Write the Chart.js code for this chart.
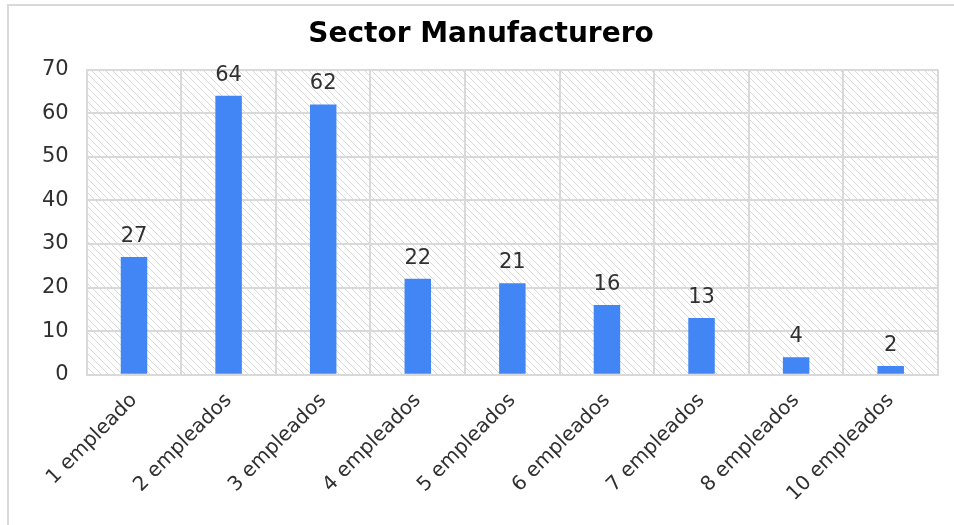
<!DOCTYPE html>
<html>
<head>
<meta charset="utf-8">
<script src="https://cdn.jsdelivr.net/npm/chart.js@4.4.0/dist/chart.umd.min.js"></script>
<style>
  html, body { margin: 0; padding: 0; background: #fff; }
  #wrap { width: 954px; height: 525px; position: relative; }
</style>
</head>
<body>
<div id="wrap"><canvas id="chart"></canvas></div>
<script>
const categories = ["1 empleado", "2 empleados", "3 empleados", "4 empleados", "5 empleados",
  "6 empleados", "7 empleados", "8 empleados", "10 empleados"];
const values = [27, 64, 62, 22, 21, 16, 13, 4, 2];
const yTicks = [0, 10, 20, 30, 40, 50, 60, 70];

const FONT = "'DejaVu Sans', sans-serif";
const GRID = "#d9d9d9";
const TEXT = "#303030";

const makeHatch = () => {
  const s = 7;
  const c = document.createElement("canvas");
  c.width = s;
  c.height = s;
  const g = c.getContext("2d");
  g.strokeStyle = "#d8d8d8";
  g.lineWidth = 1;
  g.beginPath();
  g.moveTo(-1, -1); g.lineTo(s + 1, s + 1);
  g.moveTo(-1, s - 1); g.lineTo(1, s + 1);
  g.moveTo(s - 1, -1); g.lineTo(s + 1, 1);
  g.stroke();
  return g.createPattern(c, "repeat");
};

const hatchBg = {
  id: "hatchBg",
  beforeDraw(chart) {
    const { ctx, chartArea: a } = chart;
    ctx.save();
    ctx.fillStyle = "#fff";
    ctx.fillRect(0, 0, chart.width, chart.height);
    ctx.fillStyle = makeHatch();
    ctx.fillRect(a.left, a.top, a.right - a.left, a.bottom - a.top);
    // outer frame (top + left edges only visible)
    ctx.strokeStyle = GRID;
    ctx.lineWidth = 2;
    ctx.beginPath();
    ctx.moveTo(8, chart.height);
    ctx.lineTo(8, 5);
    ctx.lineTo(chart.width, 5);
    ctx.stroke();
    ctx.restore();
  }
};

const valueLabels = {
  id: "valueLabels",
  afterDatasetsDraw(chart) {
    const { ctx } = chart;
    const meta = chart.getDatasetMeta(0);
    ctx.save();
    ctx.font = "21px " + FONT;
    ctx.fillStyle = TEXT;
    ctx.textAlign = "center";
    ctx.textBaseline = "bottom";
    meta.data.forEach((bar, i) => {
      ctx.fillText(String(values[i]), bar.x, bar.y - 10);
    });
    ctx.restore();
  }
};

new Chart(document.getElementById("chart"), {
  type: "bar",
  data: {
    labels: categories,
    datasets: [
      {
        data: values,
        backgroundColor: "#4285F4",
        barPercentage: 0.28,
        categoryPercentage: 1
      }
    ]
  },
  options: {
    responsive: true,
    maintainAspectRatio: false,
    animation: false,
    layout: {
      padding: { top: 6, bottom: 5, left: 24, right: 16 }
    },
    plugins: {
      legend: { display: false },
      tooltip: { enabled: false },
      title: {
        display: true,
        text: "Sector Manufacturero",
        color: "#000",
        font: { family: FONT, size: 28, weight: "bold" },
        padding: { top: 12, bottom: 18 }
      }
    },
    scales: {
      x: {
        grid: { color: GRID, lineWidth: 2, drawTicks: false },
        border: { color: GRID, width: 2 },
        ticks: {
          color: TEXT,
          font: { family: FONT, size: 20 },
          maxRotation: 45,
          minRotation: 45,
          autoSkip: false,
          padding: 14
        }
      },
      y: {
        min: 0,
        max: 70,
        afterBuildTicks: (axis) => {
          axis.ticks = yTicks.map((v) => ({ value: v }));
        },
        grid: { color: GRID, lineWidth: 2, drawTicks: false },
        border: { color: GRID, width: 2 },
        ticks: {
          color: TEXT,
          font: { family: FONT, size: 21 },
          padding: 18
        }
      }
    }
  },
  plugins: [hatchBg, valueLabels]
});
</script>
</body>
</html>
